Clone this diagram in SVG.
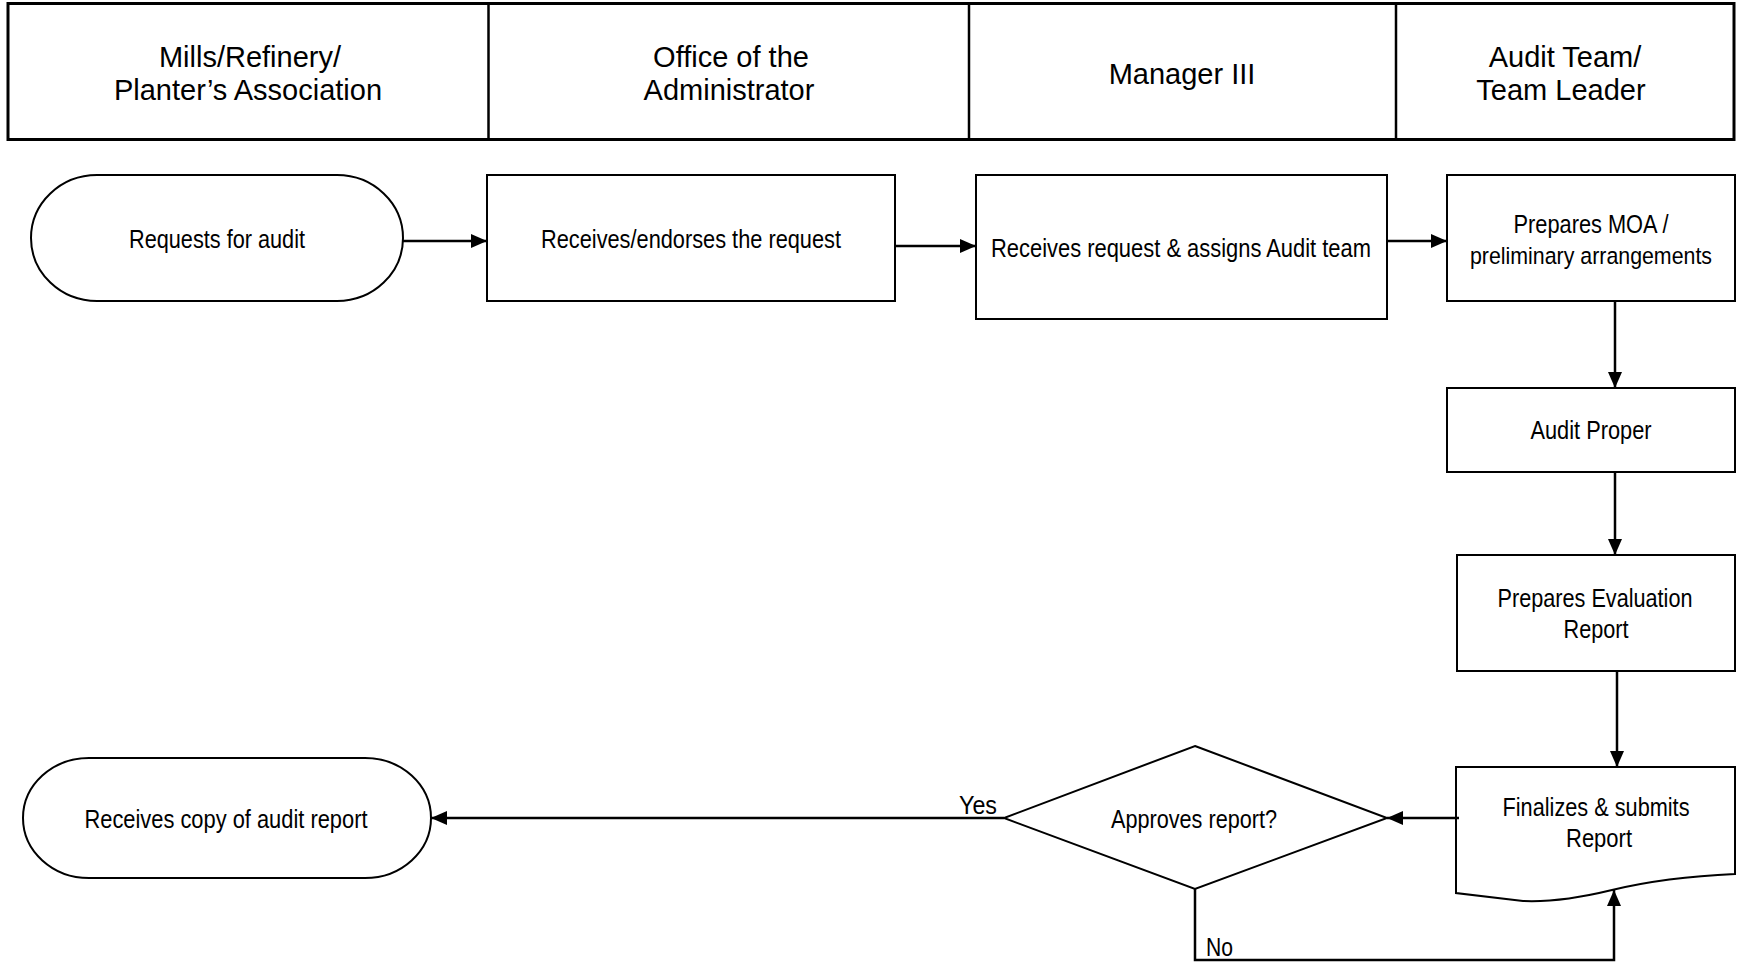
<svg xmlns="http://www.w3.org/2000/svg" width="1737" height="963" viewBox="0 0 1737 963">
<style>
.hdr{font-family:"Liberation Sans",Arial,sans-serif;font-size:29px;fill:#000;text-anchor:middle}
.t{font-family:"Liberation Sans Narrow","Liberation Sans",Arial,sans-serif;font-size:26px;fill:#000;text-anchor:middle}
.lbl{font-family:"Liberation Sans Narrow","Liberation Sans",Arial,sans-serif;font-size:25px;fill:#000}
.shape{fill:#fff;stroke:#000;stroke-width:2}
.conn{fill:none;stroke:#000;stroke-width:2.5}
</style>
<defs>
<marker id="arr" markerUnits="userSpaceOnUse" markerWidth="18" markerHeight="16" refX="16" refY="7" orient="auto">
<path d="M0,0 L16,7 L0,14 Z" fill="#000"/>
</marker>
</defs>
<rect width="1737" height="963" fill="#fff"/>
<g id="header">
<rect x="8" y="3.5" width="1726" height="136" fill="#fff" stroke="#000" stroke-width="3"/>
<line x1="488.5" y1="3.5" x2="488.5" y2="139.5" stroke="#000" stroke-width="2.5"/>
<line x1="969" y1="3.5" x2="969" y2="139.5" stroke="#000" stroke-width="2.5"/>
<line x1="1396" y1="3.5" x2="1396" y2="139.5" stroke="#000" stroke-width="2.5"/>
<text class="hdr" x="250" y="67">Mills/Refinery/</text>
<text class="hdr" x="248" y="100">Planter’s Association</text>
<text class="hdr" x="731" y="67">Office of the</text>
<text class="hdr" x="729" y="100">Administrator</text>
<text class="hdr" x="1182" y="84">Manager III</text>
<text class="hdr" x="1565" y="67">Audit Team/</text>
<text class="hdr" x="1561" y="100">Team Leader</text>
</g>
<g id="n1">
<rect class="shape" x="31" y="175" width="372" height="126" rx="66" ry="63"/>
<text class="t" x="217" y="248" textLength="176" lengthAdjust="spacingAndGlyphs">Requests for audit</text>
</g>
<g id="n2">
<rect class="shape" x="487" y="175" width="408" height="126"/>
<text class="t" x="691" y="248" textLength="300" lengthAdjust="spacingAndGlyphs">Receives/endorses the request</text>
</g>
<g id="n3">
<rect class="shape" x="976" y="175" width="411" height="144"/>
<text class="t" x="1181" y="257" textLength="380" lengthAdjust="spacingAndGlyphs">Receives request &amp; assigns Audit team</text>
</g>
<g id="n4">
<rect class="shape" x="1447" y="175" width="288" height="126"/>
<text class="t" x="1591" y="233" textLength="155" lengthAdjust="spacingAndGlyphs">Prepares MOA /</text>
<text class="t" x="1591" y="264" style="font-size:24.5px" textLength="242" lengthAdjust="spacingAndGlyphs">preliminary arrangements</text>
</g>
<g id="n5">
<rect class="shape" x="1447" y="388" width="288" height="84"/>
<text class="t" x="1591" y="439" textLength="121" lengthAdjust="spacingAndGlyphs">Audit Proper</text>
</g>
<g id="n6">
<rect class="shape" x="1457" y="555" width="278" height="116"/>
<text class="t" x="1595" y="607" textLength="195" lengthAdjust="spacingAndGlyphs">Prepares Evaluation</text>
<text class="t" x="1596" y="638" textLength="65" lengthAdjust="spacingAndGlyphs">Report</text>
</g>
<g id="n7">
<path class="shape" d="M1456,767 H1735 V874 C1690,876 1645,882 1612,890 C1575,899 1545,902 1523,901 L1456,893 Z"/>
<text class="t" x="1596" y="816" textLength="187" lengthAdjust="spacingAndGlyphs">Finalizes &amp; submits</text>
<text class="t" x="1599" y="847" textLength="66" lengthAdjust="spacingAndGlyphs">Report</text>
</g>
<g id="n8">
<polygon class="shape" points="1195,746 1387,818 1195,889 1004,818"/>
<text class="t" x="1194" y="828" textLength="166" lengthAdjust="spacingAndGlyphs">Approves report?</text>
</g>
<g id="n9">
<rect class="shape" x="23" y="758" width="408" height="120" rx="66" ry="60"/>
<text class="t" x="226" y="828" textLength="283" lengthAdjust="spacingAndGlyphs">Receives copy of audit report</text>
</g>
<g id="connectors">
<path class="conn" d="M403,241 H487" marker-end="url(#arr)"/>
<path class="conn" d="M895,246 H976" marker-end="url(#arr)"/>
<path class="conn" d="M1387,241 H1447" marker-end="url(#arr)"/>
<path class="conn" d="M1615,301 V388" marker-end="url(#arr)"/>
<path class="conn" d="M1615,472 V555" marker-end="url(#arr)"/>
<path class="conn" d="M1617,671 V767" marker-end="url(#arr)"/>
<path class="conn" d="M1459,818 H1387" marker-end="url(#arr)"/>
<path class="conn" d="M1004,818 H431" marker-end="url(#arr)"/>
<path class="conn" d="M1195,889 V960 H1614 V890" marker-end="url(#arr)"/>
<text class="lbl" x="959" y="814" textLength="38" lengthAdjust="spacingAndGlyphs">Yes</text>
<text class="lbl" x="1206" y="956" textLength="27" lengthAdjust="spacingAndGlyphs">No</text>
</g>
</svg>
